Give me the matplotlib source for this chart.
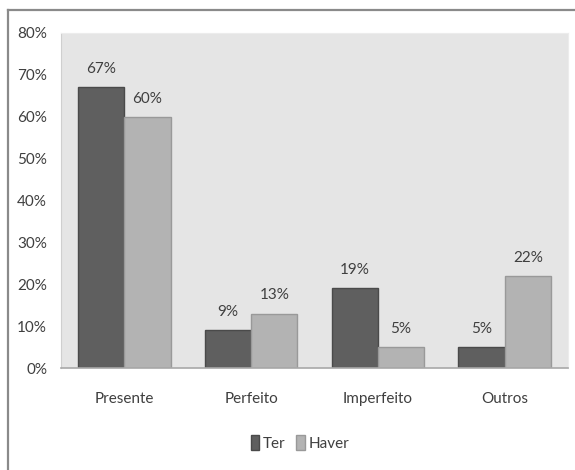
import numpy as np
import matplotlib.pyplot as plt
from matplotlib.lines import Line2D
from matplotlib.patches import Patch

# tempos verbais e percentagens por auxiliar
categorias = ['Presente', 'Perfeito', 'Imperfeito', 'Outros']
ter = [67, 9, 19, 5]
haver = [60, 13, 5, 22]
yticks = [0, 10, 20, 30, 40, 50, 60, 70, 80]

plt.rcParams['font.family'] = ['Lato', 'DejaVu Sans']
txt = '#3f3f3f'
fs = 11

fig = plt.figure(figsize=(5.75, 4.7), dpi=100)
ax = fig.add_axes([61/575, 102/470, 507/575, 335/470])
ax.set_facecolor('#e5e5e5')

x = np.arange(len(categorias))
w = 0.365
b1 = ax.bar(x - w/2, ter, w, color='#5f5f5f', edgecolor='#4a4a4a', linewidth=1, label='Ter')
b2 = ax.bar(x + w/2, haver, w, color='#b3b3b3', edgecolor='#999999', linewidth=1, label='Haver')

for bars, vals in ((b1, ter), (b2, haver)):
    for r, v in zip(bars, vals):
        ax.annotate('%d%%' % v, (r.get_x() + r.get_width()/2, v), xytext=(0, 8),
                    textcoords='offset points', ha='center', va='bottom',
                    fontsize=fs, color=txt)

ax.set_xlim(-0.5, 3.5)
ax.set_ylim(0, 80)
ax.set_yticks(yticks)
ax.set_yticklabels(['%d%%' % t for t in yticks], fontsize=fs, color=txt)
ax.set_xticks(x)
ax.set_xticklabels(categorias, fontsize=fs, color=txt)
ax.tick_params(length=0)
ax.tick_params(axis='y', pad=10)
ax.tick_params(axis='x', pad=17)

for s in ('top', 'right'):
    ax.spines[s].set_color('#ececec')
ax.spines['left'].set_color('#cfcfcf')
ax.spines['bottom'].set_color('#a8a8a8')
ax.spines['bottom'].set_linewidth(1.2)

handles = [Patch(facecolor='#5f5f5f', edgecolor='#4a4a4a', label='Ter'),
           Patch(facecolor='#b3b3b3', edgecolor='#999999', label='Haver')]
leg = fig.legend(handles=handles, loc='center', bbox_to_anchor=(300/575, 1 - 443/470),
                 ncol=2, frameon=False, fontsize=fs, handlelength=0.55, handleheight=1.1,
                 handletextpad=0.25, columnspacing=0.7)
for t in leg.get_texts():
    t.set_color(txt)

# moldura exterior (topo e esquerda)
fig.add_artist(Line2D([8/575, 1], [1 - 10/470, 1 - 10/470], color='#8a8a8a', lw=1.6))
fig.add_artist(Line2D([8/575, 8/575], [0, 1 - 10/470], color='#8a8a8a', lw=1.6))

fig.savefig('out.png', dpi=100)
